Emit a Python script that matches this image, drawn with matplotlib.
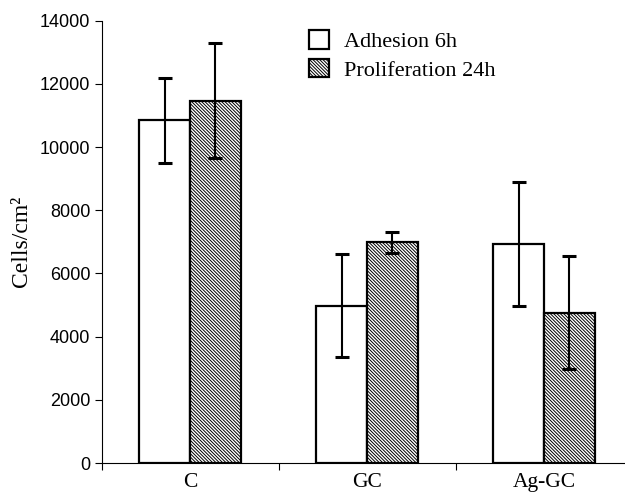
import matplotlib
matplotlib.use("Agg")
import matplotlib.pyplot as plt
import numpy as np

# values
groups = ["C", "GC", "Ag-GC"]
adhesion = [10850, 4970, 6930]
adhesion_err = [1345, 1630, 1970]
prolif = [11470, 6980, 4760]
prolif_err = [1820, 330, 1790]
yticks = [0, 2000, 4000, 6000, 8000, 10000, 12000, 14000]

plt.rcParams["hatch.linewidth"] = 0.7

fig = plt.figure(figsize=(6.25, 4.97), dpi=100)
ax = fig.add_axes([0.1624, 0.0684, 0.8496, 0.890])

x = np.arange(len(groups))
w = 0.288
err_kw = dict(ecolor="black", elinewidth=1.5, capsize=5, capthick=2.2)

ax.bar(x - w / 2, adhesion, w, yerr=adhesion_err, color="white",
       edgecolor="black", linewidth=1.6, label="Adhesion 6h", error_kw=err_kw)
ax.bar(x + w / 2, prolif, w, yerr=prolif_err, color="white",
       edgecolor="black", linewidth=1.6, hatch="\\" * 10,
       label="Proliferation 24h", error_kw=err_kw)

ax.set_xlim(-0.5, 2.5)
ax.set_ylim(0, 14000)
ax.set_yticks(yticks)
ax.set_yticklabels([str(v) for v in yticks], family="Liberation Sans", fontsize=13)
ax.set_xticks([-0.5, 0.5, 1.5, 2.5])
ax.set_xticklabels([])
ax.tick_params(axis="x", length=5, direction="out")
ax.tick_params(axis="y", length=5, direction="out", pad=3)
for i, g in enumerate(groups):
    ax.text(i, -330, g, ha="center", va="top", family="Liberation Serif", fontsize=15.5)

ax.spines["top"].set_visible(False)
ax.spines["right"].set_visible(False)
ax.set_ylabel("Cells/cm²", family="Liberation Serif", fontsize=17, labelpad=6)

ax.legend(loc="upper left", bbox_to_anchor=(309 / 625, 1 - 30 / 497),
          bbox_transform=fig.transFigure, borderaxespad=0, borderpad=0,
          frameon=False, prop={"family": "Liberation Serif", "size": 16},
          handlelength=0.92, handleheight=0.92, handletextpad=0.65, labelspacing=0.3)

fig.savefig("out.png", dpi=100)
